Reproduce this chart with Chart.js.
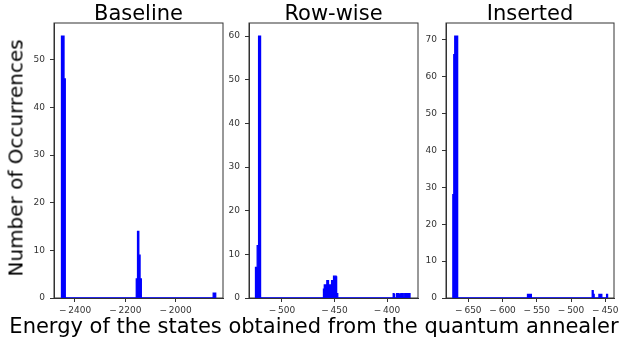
<!DOCTYPE html>
<html>
<head>
<meta charset="utf-8">
<script src="https://cdn.jsdelivr.net/npm/chart.js@4"></script>
<style>
  body { margin: 0; background: #fff; }
  #wrap { position: relative; width: 628px; height: 343px; overflow: hidden; }
  #wrap canvas { position: absolute; left: 0; top: 0; }
  .lbl { position: absolute; font-family: "DejaVu Sans", sans-serif; font-size: 21px; color: #000; white-space: nowrap; line-height: 21px; }
</style>
</head>
<body>
<div id="wrap">
  <canvas id="c1" width="628" height="343"></canvas>
  <canvas id="c2" width="628" height="343"></canvas>
  <canvas id="c3" width="628" height="343"></canvas>
  <div class="lbl" id="ylab" style="left:16px; top:158px; font-size:20px; transform: translate(-50%, -50%) rotate(-90deg);">Number of Occurrences</div>
  <div class="lbl" id="xlab" style="left:314px; top:316px; transform: translateX(-50%);">Energy of the states obtained from the quantum annealer</div>
</div>
<script>
// histogram runs: start energy of each run of bins, and the counts inside it
const titles = ['Baseline', 'Row-wise', 'Inserted'];

const baselineBinWidth = 5;
const baselineStart = [-2453.7, -2156.3, -1850.5];
const baselineCounts = [[55, 55, 46], [4, 14, 9, 4], [1, 1]];

const rowBinWidth = 0.8;
const rowStart = [-525.2, -460.5, -394.1];
const rowCounts = [
    [7, 7, 12, 30, 60, 60],
    [2, 3, 3, 3, 4, 4, 3, 3, 3, 4, 4, 4, 5, 5, 5, 5, 1],
    [1, 1, 0, 0, 1, 1, 1, 0, 0, 1, 1, 1, 0, 0, 1, 1, 1, 0, 1, 1],
];

const insBinWidth = 1.4;
const insStart = [-672.6, -563.6, -469.1];
const insCounts = [[28, 66, 71, 71, 71], [1, 1, 1, 1], [2, 1, 0, 0, 0, 0, 0, 1, 1, 1, 0, 0, 0, 0, 0, 1]];

// x tick spacing per panel
const xSteps = [200, 50, 50];
const ySteps = [10, 10, 10];

function histPoints(starts, counts, w) {
    const pts = [];
    starts.forEach((s, k) => {
        pts.push({ x: s, y: 0 });
        counts[k].forEach((c, i) => {
            pts.push({ x: s + i * w, y: c });
            pts.push({ x: s + (i + 1) * w, y: c });
        });
        pts.push({ x: s + counts[k].length * w, y: 0 });
    });
    return pts;
}

// box around each axes, plus the title centred over the plot area
const frame = {
    id: 'frame',
    beforeDatasetsDraw(chart) {
        const a = chart.chartArea;
        const ctx = chart.ctx;
        ctx.save();
        ctx.strokeStyle = '#333';
        ctx.lineWidth = 1;
        ctx.strokeRect(a.left, a.top, a.right - a.left, a.bottom - a.top);
        ctx.restore();
    },
    afterDraw(chart, args, opts) {
        const a = chart.chartArea;
        const ctx = chart.ctx;
        ctx.save();
        ctx.font = '21px "DejaVu Sans"';
        ctx.fillStyle = '#000';
        ctx.textAlign = 'center';
        ctx.textBaseline = 'alphabetic';
        ctx.fillText(opts.text, (a.left + a.right) / 2, 20);
        ctx.restore();
    }
};

function fmt(v) {
    return v < 0 ? '\u2212\u2009' + Math.abs(v) : String(v);
}

function makePanel(id, idx, pts, xr, ymax, pad) {
    const tickFont = { family: 'DejaVu Sans', size: 9 };
    new Chart(document.getElementById(id), {
        type: 'line',
        data: {
            datasets: [{
                data: pts,
                borderColor: '#0000ff',
                backgroundColor: '#0000ff',
                borderWidth: 1.3,
                pointRadius: 0,
                tension: 0,
                fill: 'origin',
            }],
        },
        options: {
            responsive: false,
            animation: false,
            layout: { padding: pad },
            plugins: {
                legend: { display: false },
                tooltip: { enabled: false },
                frame: { text: titles[idx] },
            },
            scales: {
                x: {
                    type: 'linear',
                    min: xr[0],
                    max: xr[1],
                    afterFit: s => { s.height = 20; },
                    grid: { drawOnChartArea: false, drawTicks: true, tickLength: 4, color: '#333' },
                    border: { display: true, color: '#333' },
                    ticks: { stepSize: xSteps[idx], includeBounds: false, maxRotation: 0, padding: 3,
                        color: '#333', font: tickFont, callback: fmt },
                },
                y: {
                    min: 0,
                    max: ymax,
                    afterFit: s => { s.width = 30; },
                    grid: { drawOnChartArea: false, drawTicks: true, tickLength: 4, color: '#333' },
                    border: { display: true, color: '#333' },
                    ticks: { stepSize: ySteps[idx], includeBounds: false, padding: 5,
                        color: '#333', font: tickFont, callback: fmt },
                },
            },
        },
        plugins: [frame],
    });
}

makePanel('c1', 0, histPoints(baselineStart, baselineCounts, baselineBinWidth),
    [-2483.5, -1811.5], 57.75, { left: 24, right: 405, top: 23, bottom: 25 });
makePanel('c2', 1, histPoints(rowStart, rowCounts, rowBinWidth),
    [-531.4, -370.5], 63, { left: 219, right: 210, top: 23, bottom: 25 });
makePanel('c3', 2, histPoints(insStart, insCounts, insBinWidth),
    [-682.6, -437.3], 74.55, { left: 416, right: 14, top: 23, bottom: 25 });
</script>
</body>
</html>
